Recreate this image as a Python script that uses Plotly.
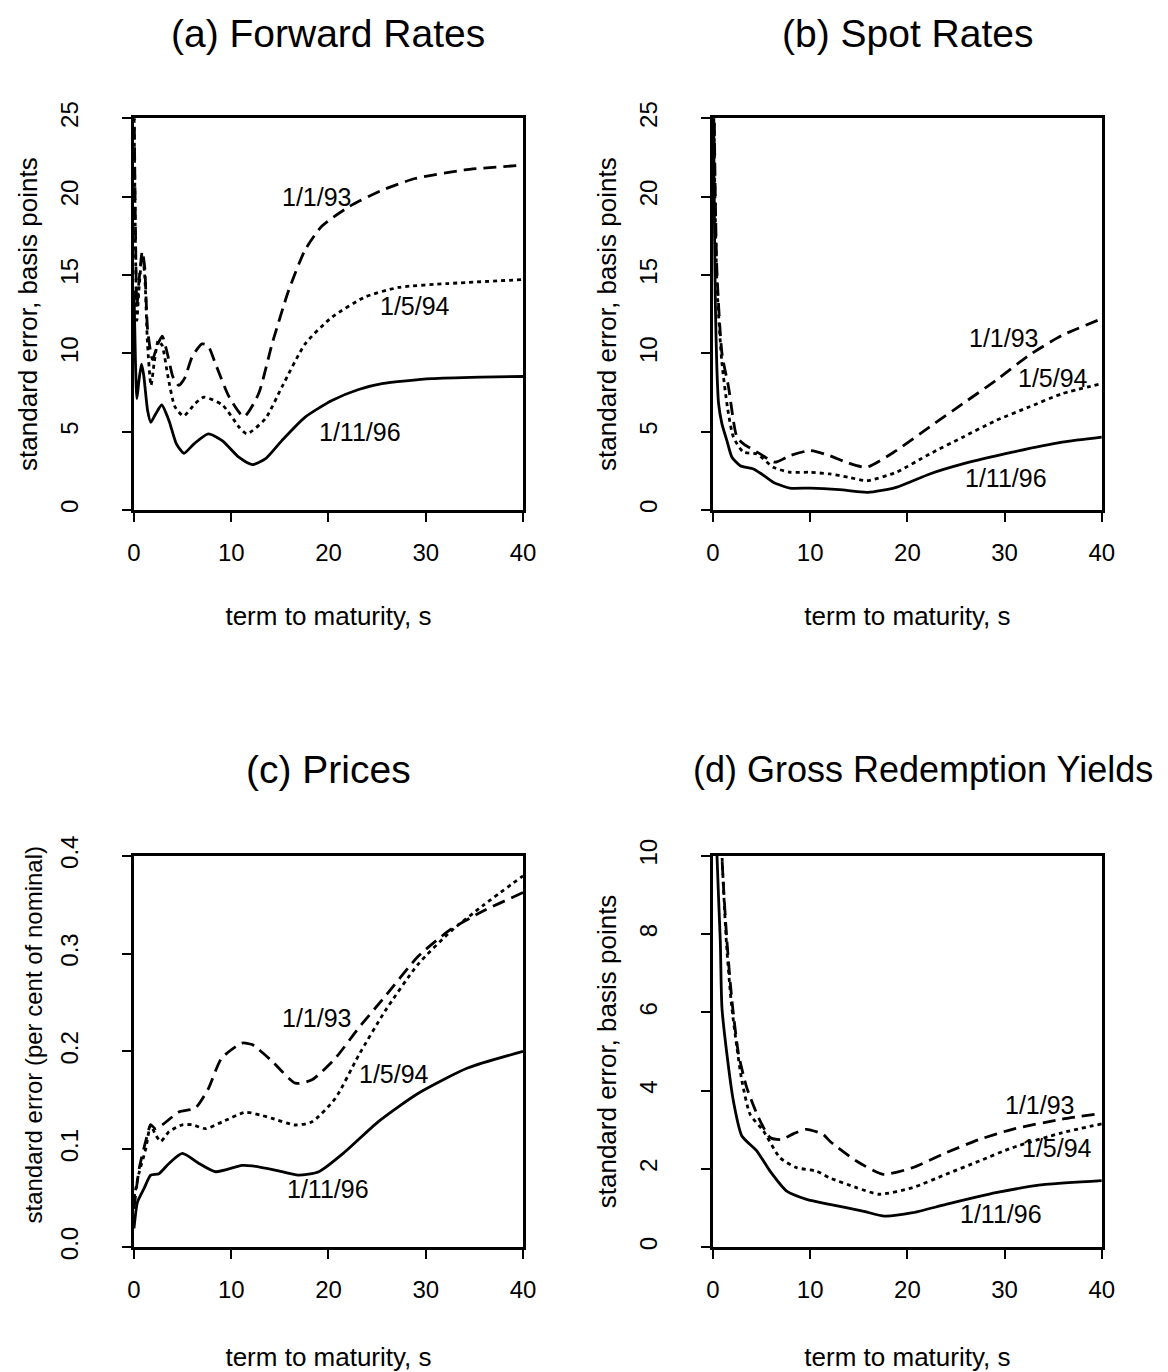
import plotly.graph_objects as go

# ---------------- data: standard errors by term to maturity ----------------
# (a) forward rates, basis points
fwd_s_9301 = [0, 0.15, 0.3, 0.5, 0.85, 1.1, 1.4, 1.9, 2.4, 2.9, 3.5, 4.0, 4.6, 5.2, 6.0, 7.0, 7.6, 8.4, 9.8,
              11.3, 12.8, 14.2, 15.9, 17.6, 19.3, 22.1, 25.5, 28.9, 34.0, 40]
fwd_9301 = [27, 18, 13, 14.5, 16.5, 15.5, 11.5, 9.6, 10.5, 11.1, 9.8, 8.5, 7.95, 8.4, 9.8, 10.6, 10.5, 9.3, 7.2,
            5.95, 7.4, 10.6, 14.0, 16.6, 18.1, 19.35, 20.4, 21.15, 21.7, 22.0]
fwd_s_9405 = [0, 0.15, 0.3, 0.5, 0.85, 1.1, 1.4, 1.75, 2.1, 2.5, 2.9, 3.5, 4.2, 5.1, 6.3, 7.2, 9.1, 10.8, 11.6,
              13.5, 15.2, 17.6, 20.35, 23.8, 27.2, 32.3, 40]
fwd_9405 = [26, 17, 12.1, 14, 16.3, 15, 10.5, 7.95, 9.5, 10.8, 10.5, 8.5, 6.6, 6.0, 6.8, 7.2, 6.7, 5.3, 4.86,
            5.82, 7.84, 10.6, 12.3, 13.6, 14.2, 14.45, 14.7]
fwd_s_9611 = [0, 0.15, 0.3, 0.5, 0.77, 1.0, 1.4, 1.73, 2.24, 2.85, 3.6, 4.36, 5.14, 6.17, 7.64, 9.07, 10.78,
              12.15, 13.5, 15.2, 17.6, 20.35, 23.1, 25.5, 30.6, 35.7, 40]
fwd_9611 = [14, 9.5, 7.1, 8.2, 9.3, 8.6, 6.35, 5.6, 6.14, 6.7, 5.7, 4.22, 3.62, 4.22, 4.86, 4.43, 3.37,
            2.9, 3.26, 4.43, 5.93, 6.99, 7.69, 8.06, 8.38, 8.48, 8.52]

# (b) spot rates, basis points
spot_s_9301 = [0, 0.15, 0.4, 0.92, 1.6, 2.46, 3.14, 4.85, 6.38, 7.92, 9.97, 12.0, 13.9, 15.8, 18.85, 22.26,
               25.68, 29.1, 32.5, 35.9, 40]
spot_9301 = [40, 24, 15.3, 10.0, 7.84, 4.65, 4.22, 3.58, 3.05, 3.47, 3.79, 3.47, 3.0, 2.73, 3.79, 5.29,
             6.78, 8.27, 9.87, 11.14, 12.21]
spot_s_9405 = [0, 0.15, 0.4, 0.9, 1.5, 2.1, 3.14, 4.5, 6.2, 7.92, 9.97, 12.0, 13.9, 15.8, 18.85, 22.3,
               25.7, 29.1, 32.5, 35.9, 40]
spot_9405 = [38, 22, 14.5, 9.5, 6.5, 4.65, 3.69, 3.58, 2.73, 2.41, 2.41, 2.3, 2.1, 1.87, 2.41, 3.58,
             4.65, 5.71, 6.57, 7.42, 8.06]
spot_s_9611 = [0, 0.1, 0.24, 0.4, 0.57, 0.92, 1.43, 1.95, 2.8, 4.16, 5.0, 6.2, 7.9, 10.0, 13.0, 15.9, 18.85,
               22.3, 25.7, 30.8, 35.9, 40]
spot_9611 = [40, 22, 13.2, 9.0, 6.8, 5.5, 4.43, 3.37, 2.83, 2.62, 2.3, 1.77, 1.4, 1.4, 1.3, 1.13, 1.45,
             2.3, 2.94, 3.69, 4.33, 4.65]

# (c) prices, per cent of nominal
price_s_9301 = [0, 0.53, 1.2, 1.72, 2.2, 3.05, 4.6, 6.3, 7.65, 9.0, 11.1, 12.15, 14.2, 16.6, 18.3, 20.7,
                23.1, 25.8, 29.2, 32.6, 36.0, 40]
price_9301 = [0.039, 0.08, 0.108, 0.125, 0.121, 0.126, 0.138, 0.142, 0.162, 0.193, 0.2085, 0.207, 0.19,
              0.1675, 0.171, 0.193, 0.224, 0.256, 0.297, 0.325, 0.344, 0.3624]
price_s_9405 = [0, 0.5, 1.2, 1.72, 2.2, 2.75, 3.6, 4.97, 6.0, 7.36, 9.07, 11.46, 12.99, 14.2, 16.6, 18.3,
                20.7, 23.1, 25.8, 29.2, 32.6, 36.0, 40]
price_9405 = [0.05, 0.075, 0.1, 0.125, 0.115, 0.108, 0.118, 0.125, 0.125, 0.121, 0.128, 0.1378, 0.135,
              0.1316, 0.1248, 0.128, 0.152, 0.196, 0.241, 0.289, 0.323, 0.35, 0.3795]
price_s_9611 = [0, 0.36, 1.04, 1.72, 2.57, 3.6, 4.97, 6.68, 8.39, 11.1, 12.15, 14.5, 16.9, 19.0, 21.7, 25.1,
                29.2, 34.3, 40]
price_9611 = [0.019, 0.046, 0.06, 0.0735, 0.075, 0.0855, 0.0957, 0.0855, 0.077, 0.0835, 0.083, 0.0787,
              0.0735, 0.077, 0.0974, 0.128, 0.157, 0.183, 0.2]

# (d) gross redemption yields, basis points
gry_s_9301 = [0, 0.5, 0.92, 1.43, 1.95, 2.63, 3.48, 4.68, 5.87, 7.07, 8.3, 9.63, 11.33, 12.0, 14.75, 17.5,
              20.55, 23.97, 27.4, 30.8, 35.9, 40]
gry_9301 = [40, 16, 10.0, 7.83, 6.29, 4.93, 4.07, 3.31, 2.8, 2.75, 2.9, 3.01, 2.88, 2.71, 2.2, 1.86,
            2.03, 2.41, 2.75, 3.01, 3.27, 3.42]
gry_s_9405 = [0, 0.5, 0.9, 1.4, 1.9, 2.46, 2.97, 3.82, 5.18, 6.9, 8.6, 10.66, 12.0, 14.75, 17.1, 20.55,
              23.97, 27.4, 30.8, 35.9, 40]
gry_9405 = [40, 16, 10.2, 7.7, 6.2, 5.1, 4.25, 3.39, 2.97, 2.28, 2.03, 1.94, 1.77, 1.52, 1.35, 1.52,
            1.86, 2.2, 2.54, 2.92, 3.15]
gry_s_9611 = [0, 0.2, 0.41, 0.75, 0.92, 1.43, 2.1, 2.97, 4.5, 5.87, 7.58, 9.63, 12.0, 15.4, 17.65, 20.55,
              23.97, 29.1, 34.2, 40]
gry_9611 = [25, 14, 10.0, 7.83, 6.12, 4.93, 3.73, 2.84, 2.46, 1.94, 1.43, 1.22, 1.09, 0.92, 0.79, 0.877,
            1.09, 1.39, 1.6, 1.7]

dates = ["1/1/93", "1/5/94", "1/11/96"]
panel_titles = ["(a) Forward Rates", "(b) Spot Rates", "(c) Prices", "(d) Gross Redemption Yields"]
y_titles = ["standard error, basis points", "standard error, basis points",
            "standard error (per cent of nominal)", "standard error, basis points"]
x_title = "term to maturity, s"

# label anchor points (term, value) for each date within each panel
label_pos = [
    [(18.8, 20.0), (28.9, 13.0), (23.2, 5.0)],
    [(29.9, 11.0), (35.0, 8.4), (30.1, 2.05)],
    [(18.8, 0.234), (26.7, 0.177), (20.0, 0.059)],
    [(33.6, 3.63), (35.4, 2.53), (29.6, 0.85)],
]

# ---------------- styling ----------------
FONT = "Liberation Sans, Arial, sans-serif"
dash_styles = ["13px,7px", "4px,4px", "solid"]
line_widths = [2.8, 2.8, 2.8]

panels = [
    [(fwd_s_9301, fwd_9301), (fwd_s_9405, fwd_9405), (fwd_s_9611, fwd_9611)],
    [(spot_s_9301, spot_9301), (spot_s_9405, spot_9405), (spot_s_9611, spot_9611)],
    [(price_s_9301, price_9301), (price_s_9405, price_9405), (price_s_9611, price_9611)],
    [(gry_s_9301, gry_9301), (gry_s_9405, gry_9405), (gry_s_9611, gry_9611)],
]
y_ranges = [[0, 25], [0, 25], [0, 0.4], [0, 10]]
y_dticks = [5, 5, 0.1, 2]
y_formats = ["", "", ".1f", ""]
x_title_standoff = [43, 50]

W, H = 1168, 1372
x_px = [(129.2, 525.0), (718.3, 1113.9)]
y_px = [(100.6, 502.1), (856.4, 1257.3)]
title_y_px = [14, 768]

fig = go.Figure()

for p in range(4):
    row, col = divmod(p, 2)
    ax = "" if p == 0 else str(p + 1)
    for k, (s, v) in enumerate(panels[p]):
        fig.add_trace(go.Scatter(
            x=s, y=v, mode="lines", name=dates[k], showlegend=False,
            line=dict(color="black", width=line_widths[k], dash=dash_styles[k],
                      shape="spline", smoothing=0.6),
            xaxis="x" + ax, yaxis="y" + ax,
        ))
    xd = [x_px[col][0] / W, x_px[col][1] / W]
    yd = [1 - y_px[row][1] / H, 1 - y_px[row][0] / H]
    common = dict(showline=True, mirror=True, linecolor="black", linewidth=2.6,
                  ticks="outside", ticklen=9, tickwidth=2.4, tickcolor="black",
                  showgrid=False, zeroline=False,
                  tickfont=dict(family=FONT, size=24, color="black"))
    fig.layout["xaxis" + ax] = dict(
        domain=xd, anchor="y" + ax, range=[0, 40], dtick=10, tick0=0,
        ticklabelstandoff=10,
        title=dict(text=x_title, font=dict(family=FONT, size=26, color="black"),
                   standoff=x_title_standoff[row]),
        **common)
    # the prices panel carries its y title as a free annotation (set a little above centre)
    ytitle = "" if p == 2 else y_titles[p]
    fig.layout["yaxis" + ax] = dict(
        domain=yd, anchor="x" + ax, range=y_ranges[p], dtick=y_dticks[p], tick0=0,
        tickformat=y_formats[p], tickangle=-90, ticklabelstandoff=35,
        title=dict(text=ytitle, font=dict(family=FONT, size=26, color="black"), standoff=11),
        **common)

    # panel title
    if p == 3:
        fig.add_annotation(text=panel_titles[p], x=1.0, y=1 - title_y_px[row] / H,
                           xref="paper", yref="paper", showarrow=False,
                           font=dict(family=FONT, size=36, color="black"),
                           xanchor="right", yanchor="middle")
    else:
        fig.add_annotation(text=panel_titles[p], x=(xd[0] + xd[1]) / 2, y=1 - title_y_px[row] / H,
                           xref="paper", yref="paper", showarrow=False,
                           font=dict(family=FONT, size=39, color="black"),
                           xanchor="center", yanchor="middle")
    # date labels
    for k, (lx, ly) in enumerate(label_pos[p]):
        fig.add_annotation(text=dates[k], x=lx, y=ly, xref="x" + ax, yref="y" + ax,
                           showarrow=False, font=dict(family=FONT, size=25, color="black"),
                           xanchor="center", yanchor="middle")

fig.add_annotation(text=y_titles[2], x=27 / W, y=1 - 1040 / H, xref="paper", yref="paper",
                   textangle=-90, showarrow=False,
                   font=dict(family=FONT, size=24, color="black"),
                   xanchor="center", yanchor="middle")

fig.update_layout(width=W, height=H, autosize=False,
                  margin=dict(l=0, r=0, t=0, b=0),
                  paper_bgcolor="white", plot_bgcolor="white",
                  font=dict(family=FONT, color="black"))

# let the figure fill the page edge to edge
fig.write_html("out.html", post_script="document.body.style.margin='0';")
